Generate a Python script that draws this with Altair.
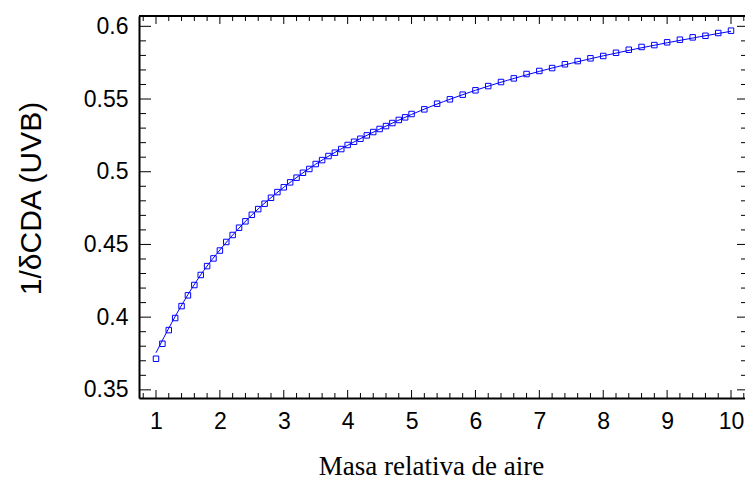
import altair as alt
import pandas as pd

# ---- data ----
x_pts = [1.0, 1.1, 1.2, 1.3, 1.4, 1.5, 1.6, 1.7, 1.8, 1.9,
         2.0, 2.1, 2.2, 2.3, 2.4, 2.5, 2.6, 2.7, 2.8, 2.9,
         3.0, 3.1, 3.2, 3.3, 3.4, 3.5, 3.6, 3.7, 3.8, 3.9,
         4.0, 4.1, 4.2, 4.3, 4.4, 4.5, 4.6, 4.7, 4.8, 4.9,
         5.0, 5.2, 5.4, 5.6, 5.8, 6.0, 6.2, 6.4, 6.6, 6.8,
         7.0, 7.2, 7.4, 7.6, 7.8, 8.0, 8.2, 8.4, 8.6, 8.8,
         9.0, 9.2, 9.4, 9.6, 9.8, 10.0]
y_pts = [0.3714, 0.3817, 0.3911, 0.3994, 0.4076, 0.4150, 0.4221, 0.4290, 0.4351, 0.4404,
         0.4458, 0.4517, 0.4565, 0.4615, 0.4659, 0.4704, 0.4743, 0.4780, 0.4821, 0.4860,
         0.4893, 0.4927, 0.4959, 0.4993, 0.5019, 0.5053, 0.5080, 0.5108, 0.5131, 0.5156,
         0.5184, 0.5206, 0.5227, 0.5250, 0.5273, 0.5294, 0.5314, 0.5335, 0.5356, 0.5374,
         0.5397, 0.5429, 0.5468, 0.5498, 0.5530, 0.5560, 0.5589, 0.5617, 0.5642, 0.5672,
         0.5693, 0.5713, 0.5739, 0.5761, 0.5780, 0.5796, 0.5818, 0.5839, 0.5858, 0.5871,
         0.5890, 0.5908, 0.5924, 0.5935, 0.5954, 0.5970]

fit_x = [1.0, 1.25, 1.5, 1.75, 2.0, 2.5, 3.0, 3.5, 4.0, 4.5, 5.0, 6.0, 7.0, 8.0, 9.0, 10.0]
fit_y = [0.3755, 0.3965, 0.4155, 0.4322, 0.4462, 0.4703, 0.4893, 0.5052, 0.5182, 0.5293,
         0.5394, 0.5560, 0.5690, 0.5797, 0.5887, 0.5966]

x_major = [1, 2, 3, 4, 5, 6, 7, 8, 9, 10]
x_minor = [0.8, 1.2, 1.4, 1.6, 1.8, 2.2, 2.4, 2.6, 2.8, 3.2, 3.4, 3.6, 3.8,
           4.2, 4.4, 4.6, 4.8, 5.2, 5.4, 5.6, 5.8, 6.2, 6.4, 6.6, 6.8,
           7.2, 7.4, 7.6, 7.8, 8.2, 8.4, 8.6, 8.8, 9.2, 9.4, 9.6, 9.8, 10.2]
y_major = [0.35, 0.4, 0.45, 0.5, 0.55, 0.6]
y_minor = [0.36, 0.37, 0.38, 0.39, 0.41, 0.42, 0.43, 0.44, 0.46, 0.47, 0.48, 0.49,
           0.51, 0.52, 0.53, 0.54, 0.56, 0.57, 0.58, 0.59]

x_title = "Masa relativa de aire"
y_title = "1/δCDA (UVB)"

# ---- layout ----
W, H = 606, 382
BLUE = "#0000ff"
xs = alt.Scale(domain=[0.734, 10.219], nice=False, zero=False)
ys = alt.Scale(domain=[0.3444, 0.6071], nice=False, zero=False)

df_pts = pd.DataFrame({"x": x_pts, "y": y_pts})
df_fit = pd.DataFrame({"x": fit_x, "y": fit_y})
df_xmaj = pd.DataFrame({"x": x_major})
df_xmin = pd.DataFrame({"x": x_minor})
df_ymaj = pd.DataFrame({"y": y_major})
df_ymin = pd.DataFrame({"y": y_minor})

x_axis = alt.Axis(values=x_major, format="d", ticks=False, tickSize=0, grid=False,
                  domain=True, domainColor="black", domainWidth=2,
                  labelFont="Liberation Sans", labelFontSize=23, labelColor="black",
                  labelPadding=12, labelFlush=False,
                  title=x_title, titleFont="Liberation Serif", titleFontSize=27,
                  titleFontWeight="normal", titleColor="black",
                  titleX=292, titleY=76, titleAlign="center", titleBaseline="alphabetic")
y_axis = alt.Axis(values=y_major, format="~g", ticks=False, tickSize=0, grid=False,
                  domain=True, domainColor="black", domainWidth=2,
                  labelFont="Liberation Sans", labelFontSize=23, labelColor="black",
                  labelPadding=11, labelFlush=False,
                  title=y_title, titleFont="Liberation Sans", titleFontSize=30,
                  titleFontWeight="normal", titleColor="black",
                  titleX=-108, titleY=182, titleAngle=-90, titleAlign="center",
                  titleBaseline="middle")

X = alt.X("x:Q", scale=xs, axis=x_axis)
Y = alt.Y("y:Q", scale=ys, axis=y_axis)

points = alt.Chart(df_pts).mark_point(
    shape="square", filled=False, size=30, strokeWidth=1, color=BLUE, opacity=1
).encode(x=X, y=Y)

fit = alt.Chart(df_fit).mark_line(color=BLUE, strokeWidth=1, interpolate="monotone").encode(
    x=X, y=Y)


def xticks(df, y0, y1):
    return alt.Chart(df).mark_rule(color="black", strokeWidth=1).encode(
        x=X, y=alt.value(y0), y2=alt.value(y1))


def yticks(df, x0, x1):
    return alt.Chart(df).mark_rule(color="black", strokeWidth=1).encode(
        y=Y, x=alt.value(x0), x2=alt.value(x1))


top_frame = alt.Chart(pd.DataFrame({"a": [0]})).mark_rule(color="black", strokeWidth=2).encode(
    x=alt.value(0), x2=alt.value(W), y=alt.value(0))

chart = alt.layer(
    fit,
    points,
    xticks(df_xmaj, H, H - 8), xticks(df_xmin, H, H - 5),
    xticks(df_xmaj, 0, 8), xticks(df_xmin, 0, 5),
    yticks(df_ymaj, 0, 12), yticks(df_ymin, 0, 7),
    yticks(df_ymaj, W, W - 8), yticks(df_ymin, W, W - 4),
    top_frame,
).properties(
    width=W, height=H,
    autosize="none",
    padding={"left": 139, "top": 16, "right": 0, "bottom": 84},
    background="white",
).configure_view(stroke=None)

chart.save("out.html", embed_options={"renderer": "svg", "actions": False})
